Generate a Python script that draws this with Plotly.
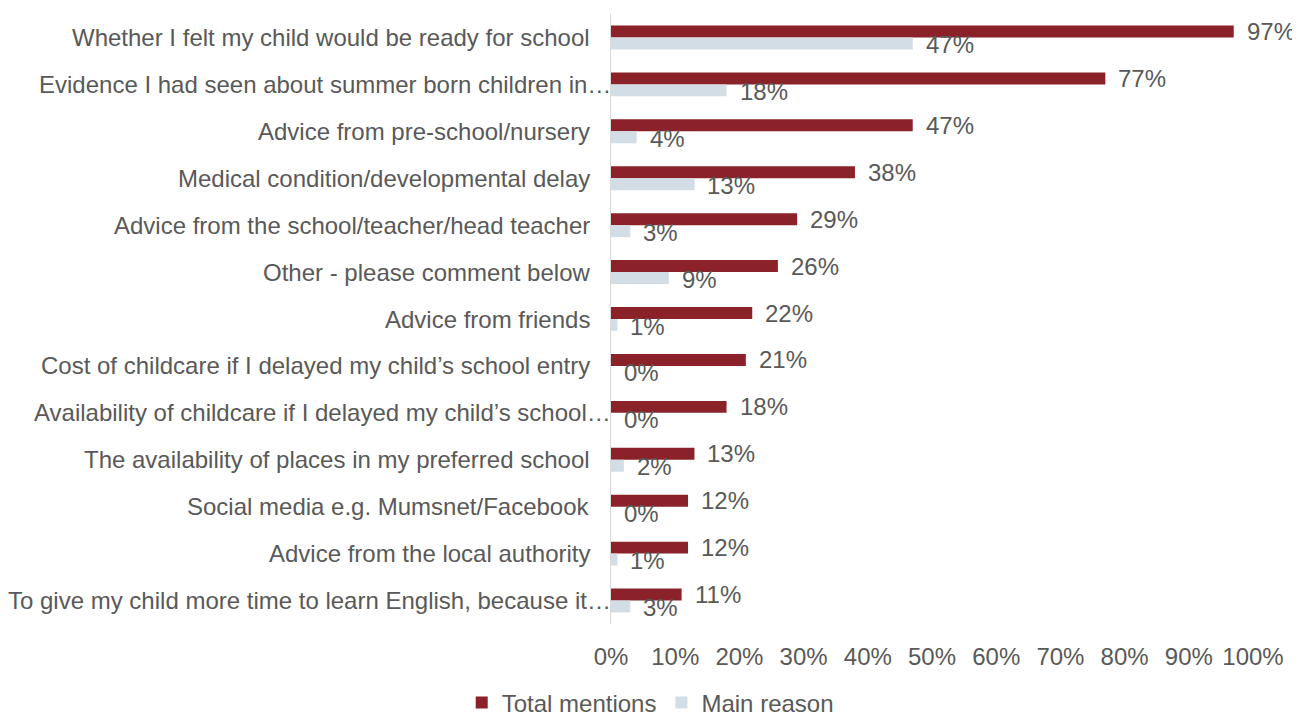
import plotly.graph_objects as go

categories = [
    "Whether I felt my child would be ready for school",
    "Evidence I had seen about summer born children in…",
    "Advice from pre-school/nursery",
    "Medical condition/developmental delay",
    "Advice from the school/teacher/head teacher",
    "Other - please comment below",
    "Advice from friends",
    "Cost of childcare if I delayed my child’s school entry",
    "Availability of childcare if I delayed my child’s school…",
    "The availability of places in my preferred school",
    "Social media e.g. Mumsnet/Facebook",
    "Advice from the local authority",
    "To give my child more time to learn English, because it…",
]
total_mentions = [0.97, 0.77, 0.47, 0.38, 0.29, 0.26, 0.22, 0.21, 0.18, 0.13, 0.12, 0.12, 0.11]
main_reason = [0.47, 0.18, 0.04, 0.13, 0.03, 0.09, 0.01, 0.0, 0.0, 0.02, 0.0, 0.01, 0.03]
x_ticks = [0, 0.1, 0.2, 0.3, 0.4, 0.5, 0.6, 0.7, 0.8, 0.9, 1.0]

RED = "#8B2229"
BLUE = "#D2DDE5"
TXT = "#595959"
FONT = "Liberation Sans, Arial, sans-serif"
FS = 24

fig = go.Figure()
fig.add_trace(go.Bar(y=categories, x=total_mentions, orientation="h", name="Total mentions",
                     marker=dict(color=RED, line=dict(width=0))))
fig.add_trace(go.Bar(y=categories, x=main_reason, orientation="h", name="Main reason",
                     marker=dict(color=BLUE, line=dict(width=0))))

annotations = []
# category labels (truncated labels overhang the axis like the original)
for c in categories:
    annotations.append(dict(x=0, y=c, xref="paper", yref="y", text=c, showarrow=False,
                            xanchor="right", yanchor="middle",
                            xshift=2 if c.endswith("…") else -19,
                            font=dict(size=FS, color=TXT, family=FONT)))
for c, v in zip(categories, total_mentions):
    annotations.append(dict(x=v, y=c, xref="x", yref="y", text=f"{round(v*100)}%",
                            showarrow=False, xanchor="left", yanchor="middle",
                            xshift=11, yshift=6, font=dict(size=FS, color=TXT, family=FONT)))
for c, v in zip(categories, main_reason):
    annotations.append(dict(x=v, y=c, xref="x", yref="y", text=f"{round(v*100)}%",
                            showarrow=False, xanchor="left", yanchor="middle",
                            xshift=11, yshift=-7, font=dict(size=FS, color=TXT, family=FONT)))

fig.update_layout(
    width=1300, height=715,
    paper_bgcolor="white", plot_bgcolor="white",
    margin=dict(l=603, r=55, t=6, b=99, autoexpand=False),
    barmode="group", bargap=0.49, bargroupgap=0,
    font=dict(family=FONT, size=FS, color=TXT),
    showlegend=True,
    legend=dict(orientation="h", xref="container", x=0.494, xanchor="center",
                yref="container", y=0.028, yanchor="middle",
                font=dict(size=FS, color=TXT), traceorder="normal"),
    annotations=annotations,
)
fig.update_xaxes(range=[0, 1.0], tickvals=x_ticks, tickformat=".0%", showgrid=False,
                 zeroline=False, showline=False, ticks="", ticklabelstandoff=16,
                 tickfont=dict(size=FS, color=TXT))
fig.update_yaxes(autorange="reversed", showgrid=False, showline=True, linecolor="#D9D9D9",
                 linewidth=1, ticks="", showticklabels=False)

fig.write_html("out.html")
